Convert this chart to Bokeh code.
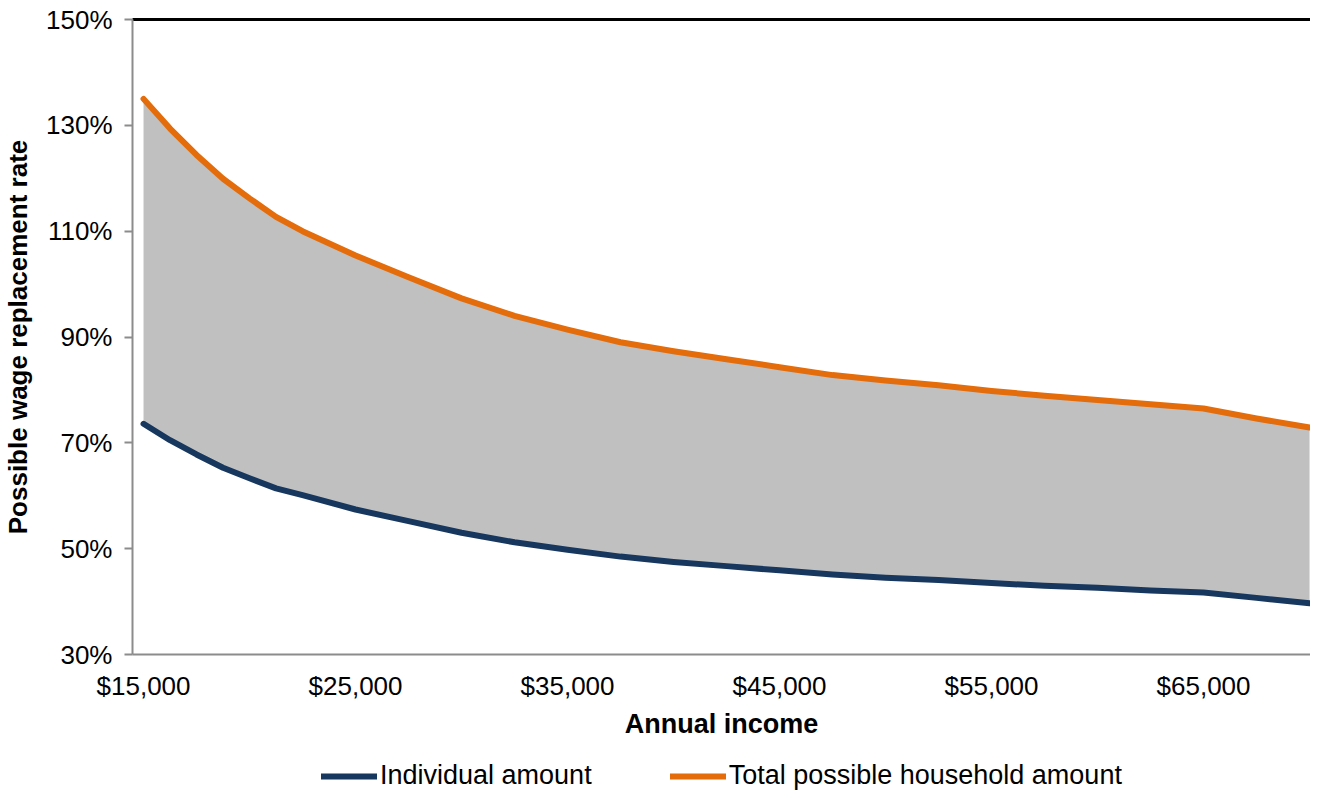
from bokeh.plotting import figure
from bokeh.layouts import column
from bokeh.models import (Range1d, NumeralTickFormatter, FixedTicker, Legend,
                          LegendItem, LinearAxis)
from bokeh.embed import file_html
from bokeh.resources import INLINE

# ---- data ----
income = [15000, 16250, 17500, 18750, 20000, 21250, 22500, 25000, 27500,
          30000, 32500, 35000, 37500, 40000, 42500, 45000, 47500, 50000,
          52500, 55000, 57500, 60000, 62500, 65000, 67500, 70000]
individual_pct = [73.6, 70.5, 67.8, 65.3, 63.3, 61.4, 60.1, 57.4, 55.2,
                  53.0, 51.2, 49.8, 48.5, 47.5, 46.7, 45.9, 45.1, 44.5,
                  44.1, 43.5, 43.0, 42.6, 42.1, 41.7, 40.7, 39.7]
household_pct = [135.0, 129.4, 124.4, 119.9, 116.2, 112.7, 110.0, 105.4,
                 101.3, 97.3, 94.0, 91.4, 89.0, 87.3, 85.8, 84.3, 82.8,
                 81.8, 80.9, 79.8, 78.9, 78.1, 77.3, 76.5, 74.6, 72.9]
y_ticks_pct = [30, 50, 70, 90, 110, 130, 150]
x_ticks = [15000, 25000, 35000, 45000, 55000, 65000]
series_names = ["Individual amount", "Total possible household amount"]

individual = [v / 100 for v in individual_pct]
household = [v / 100 for v in household_pct]

NAVY = "#17375E"
ORANGE = "#E46C0A"
FILL = "#C0C0C0"
AXIS_GRAY = "#8C8C8C"
FONT = "Liberation Sans"

p = figure(frame_width=1178, frame_height=635, output_backend="svg",
           toolbar_location=None,
           x_range=Range1d(14480, 70045), y_range=Range1d(0.30, 1.50),
           min_border_left=130, min_border_right=0, min_border_top=19,
           min_border_bottom=0)
p.outline_line_color = None
p.grid.visible = False
p.background_fill_color = "white"

p.varea(x=income, y1=individual, y2=household, fill_color=FILL)
p.line(income, individual, line_color=NAVY, line_width=6,
       line_cap="round", line_join="round")
p.line(income, household, line_color=ORANGE, line_width=6,
       line_cap="round", line_join="round")

# x axis
xa = p.xaxis[0]
xa.ticker = FixedTicker(ticks=x_ticks)
xa.formatter = NumeralTickFormatter(format="$0,0")
xa.axis_label = "Annual income"
xa.axis_label_text_font = FONT
xa.axis_label_text_font_style = "bold"
xa.axis_label_text_font_size = "27px"
xa.axis_label_text_color = "black"
xa.axis_label_standoff = 5
xa.major_label_text_font = FONT
xa.major_label_text_font_size = "26px"
xa.major_label_text_color = "black"
xa.major_label_standoff = 16
xa.major_tick_out = 0
xa.major_tick_in = 0
xa.minor_tick_out = 0
xa.minor_tick_in = 0
xa.axis_line_color = AXIS_GRAY
xa.axis_line_width = 2

# y axis
ya = p.yaxis[0]
ya.ticker = FixedTicker(ticks=[v / 100 for v in y_ticks_pct])
ya.formatter = NumeralTickFormatter(format="0%")
ya.axis_label = "Possible wage replacement rate"
ya.axis_label_text_font = FONT
ya.axis_label_text_font_style = "bold"
ya.axis_label_text_font_size = "26px"
ya.axis_label_text_color = "black"
ya.axis_label_standoff = 10
ya.major_label_text_font = FONT
ya.major_label_text_font_size = "26px"
ya.major_label_text_color = "black"
ya.major_label_standoff = 12
ya.major_tick_out = 8
ya.major_tick_in = 0
ya.minor_tick_out = 0
ya.minor_tick_in = 0
ya.major_tick_line_color = AXIS_GRAY
ya.major_tick_line_width = 2
ya.axis_line_color = AXIS_GRAY
ya.axis_line_width = 2

# top border line (black)
top = LinearAxis(ticker=FixedTicker(ticks=[]), major_label_text_font_size="0px",
                 major_tick_out=0, major_tick_in=0, minor_tick_out=0,
                 minor_tick_in=0, axis_line_color="black", axis_line_width=3)
p.add_layout(top, "above")

# ---- legend strip below the chart ----
lf = figure(width=1308, height=50, output_backend="svg", toolbar_location=None,
            x_range=Range1d(0, 1), y_range=Range1d(0, 1),
            min_border_left=0, min_border_right=0, min_border_top=0,
            min_border_bottom=0)
lf.axis.visible = False
lf.grid.visible = False
lf.outline_line_color = None
# same series, outside the strip's visible range: only their legend swatches show
l_ind = lf.line(income, individual, line_color=NAVY, line_width=6,
                line_cap="round")
l_hh = lf.line(income, household, line_color=ORANGE, line_width=6,
               line_cap="round")
legend = Legend(items=[LegendItem(label=series_names[0], renderers=[l_ind]),
                       LegendItem(label=series_names[1], renderers=[l_hh])],
                orientation="horizontal", location=(189, 0),
                label_text_font=FONT, label_text_font_size="27px",
                label_text_color="black",
                glyph_width=56, glyph_height=20, label_standoff=3,
                spacing=78, padding=0, margin=0,
                border_line_alpha=0, background_fill_alpha=0)
lf.add_layout(legend, "center")

layout = column(p, lf, spacing=0)
open("out.html", "w").write(file_html(layout, INLINE))
